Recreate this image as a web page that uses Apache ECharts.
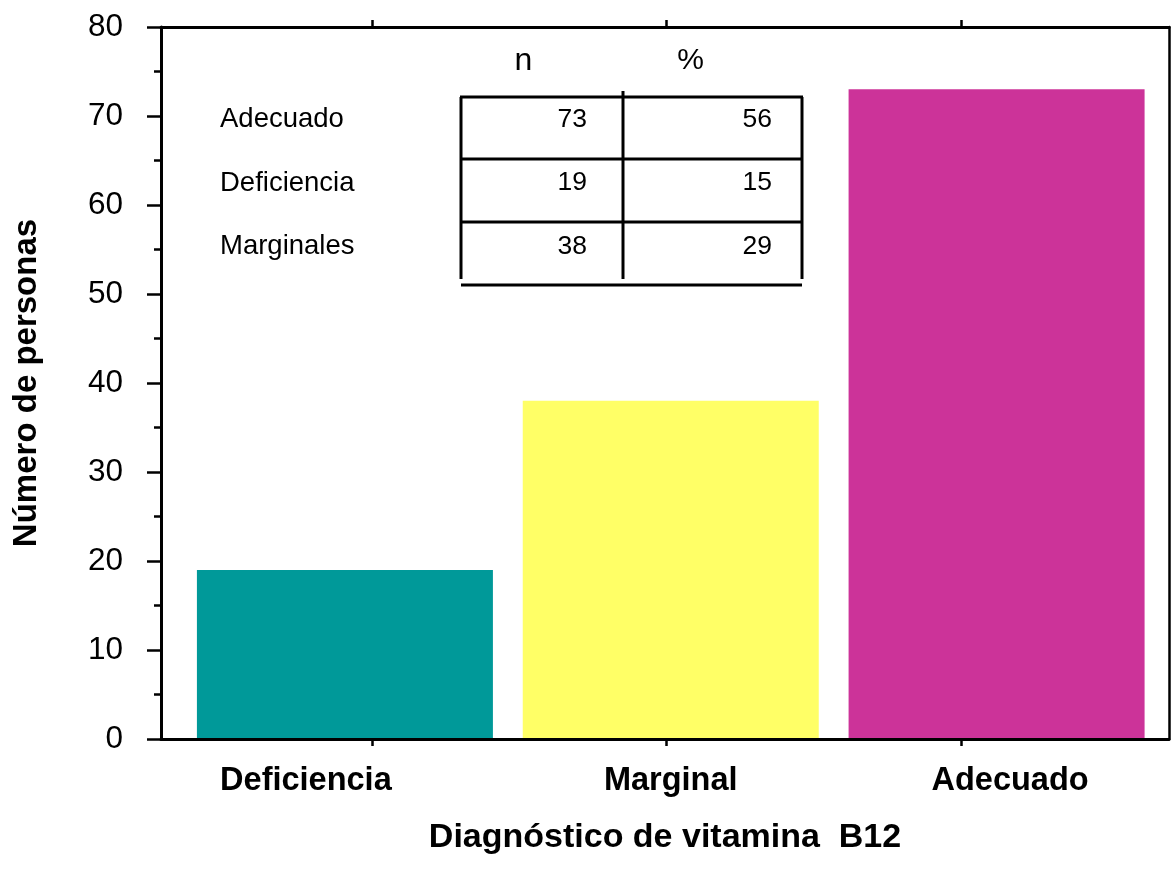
<!DOCTYPE html>
<html>
<head>
<meta charset="utf-8">
<title>Diagnóstico de vitamina B12</title>
<script src="https://cdn.jsdelivr.net/npm/echarts@6/dist/echarts.min.js"></script>
<style>
  html, body { margin: 0; padding: 0; background: #fff; }
  #chart { width: 1171px; height: 888px; }
</style>
</head>
<body>
<div id="chart"></div>
<script>
// Diagnosis categories and number of people in each
const categories = ['Deficiencia', 'Marginal', 'Adecuado'];
const counts = [19, 38, 73];
const percents = [15, 29, 56];

// Inset summary table: row labels and the category each row refers to
const tableHeaders = ['n', '%'];
const tableRowLabels = ['Adecuado', 'Deficiencia', 'Marginales'];
const tableRowIndex = [2, 0, 1];

// Y axis range
const yMin = 0;
const yMax = 80;
const yStep = 10;

const FONT = '"Liberation Sans", Arial, Helvetica, sans-serif';
const barColors = ['#009999', '#FFFF66', '#CC3399'];

const chart = echarts.init(document.getElementById('chart'), null, { renderer: 'canvas' });

// Frame tick axis: ticks sit at 1, 2, 3
const frameX = {
  gridIndex: 0,
  type: 'value',
  min: 0.2835,
  max: 3.706,
  z: 5,
  axisLine: { show: true, onZero: false, lineStyle: { color: '#000', width: 3 } },
  axisTick: { show: true, inside: false, length: 7, customValues: [1, 2, 3], lineStyle: { color: '#000', width: 2.5 } },
  axisLabel: { show: false },
  splitLine: { show: false }
};

// Inset table drawn with graphic elements
const colX = [461, 623, 802];
const rowY = [97, 159, 222];
const tableBottom = 279;
const rowTextY = [119.5, 183, 246.5];
const graphics = [];
const lineStyle = { stroke: '#000', lineWidth: 3 };
rowY.forEach(y => graphics.push({ type: 'line', shape: { x1: colX[0] - 1, y1: y, x2: colX[2] + 1, y2: y }, style: lineStyle }));
graphics.push({ type: 'line', shape: { x1: colX[0], y1: 285, x2: colX[2], y2: 285 }, style: lineStyle });
graphics.push({ type: 'line', shape: { x1: colX[0], y1: rowY[0], x2: colX[0], y2: tableBottom }, style: lineStyle });
graphics.push({ type: 'line', shape: { x1: colX[1], y1: 91, x2: colX[1], y2: tableBottom }, style: lineStyle });
graphics.push({ type: 'line', shape: { x1: colX[2], y1: rowY[0], x2: colX[2], y2: tableBottom }, style: lineStyle });
graphics.push({ type: 'text', style: { text: tableHeaders[0], x: 523.5, y: 61, font: '32px ' + FONT, fill: '#000', textAlign: 'center', textVerticalAlign: 'middle' } });
graphics.push({ type: 'text', style: { text: tableHeaders[1], x: 690.5, y: 61, font: '30px ' + FONT, fill: '#000', textAlign: 'center', textVerticalAlign: 'middle' } });
tableRowLabels.forEach((lab, r) => {
  const ci = tableRowIndex[r];
  graphics.push({ type: 'text', style: { text: lab, x: 220, y: rowTextY[r], font: '27.5px ' + FONT, fill: '#000', textAlign: 'left', textVerticalAlign: 'middle' } });
  graphics.push({ type: 'text', style: { text: String(counts[ci]), x: 587, y: rowTextY[r], font: '26.5px ' + FONT, fill: '#000', textAlign: 'right', textVerticalAlign: 'middle' } });
  graphics.push({ type: 'text', style: { text: String(percents[ci]), x: 772, y: rowTextY[r], font: '26.5px ' + FONT, fill: '#000', textAlign: 'right', textVerticalAlign: 'middle' } });
});

const catLabelStyle = { fontFamily: FONT, fontSize: 32.5, fontWeight: 'bold', color: '#000' };

const option = {
  animation: false,
  backgroundColor: '#fff',
  grid: [
    { left: 161, right: 2, top: 27, bottom: 149 },
    { left: 182, right: 11.5, top: 27, bottom: 149 }
  ],
  xAxis: [
    Object.assign({}, frameX, {
      position: 'bottom',
      name: 'Diagnóstico de vitamina  B12',
      nameLocation: 'middle',
      nameGap: 82,
      nameTextStyle: { fontFamily: FONT, fontSize: 34, fontWeight: 'bold', color: '#000' }
    }),
    Object.assign({}, frameX, { position: 'top' }),
    {
      gridIndex: 1,
      type: 'category',
      data: categories,
      position: 'bottom',
      axisLine: { show: false },
      axisTick: { show: false },
      splitLine: { show: false },
      axisLabel: {
        margin: 26,
        interval: 0,
        fontFamily: FONT, fontSize: 32.5, fontWeight: 'bold', color: '#000',
        formatter: (v, i) => '{c' + i + '|' + v + '}',
        rich: {
          c0: Object.assign({ padding: [0, 78, 0, 0] }, catLabelStyle),
          c1: Object.assign({}, catLabelStyle),
          c2: Object.assign({ padding: [0, 0, 0, 27] }, catLabelStyle)
        }
      }
    }
  ],
  yAxis: [
    {
      gridIndex: 0,
      type: 'value',
      position: 'left',
      min: yMin, max: yMax, interval: yStep,
      z: 5,
      axisLine: { show: true, onZero: false, lineStyle: { color: '#000', width: 3 } },
      axisTick: { show: true, length: 14, lineStyle: { color: '#000', width: 2.5 } },
      minorTick: { show: true, splitNumber: 2, length: 7, lineStyle: { color: '#000', width: 2.5 } },
      axisLabel: { fontFamily: FONT, fontSize: 31.5, color: '#000', margin: 38 },
      splitLine: { show: false },
      minorSplitLine: { show: false },
      name: 'Número de personas',
      nameLocation: 'middle',
      nameGap: 118,
      nameRotate: 90,
      nameTextStyle: { fontFamily: FONT, fontSize: 33, fontWeight: 'bold', color: '#000' }
    },
    {
      gridIndex: 0,
      type: 'value',
      position: 'right',
      min: yMin, max: yMax,
      z: 5,
      axisLine: { show: true, onZero: false, lineStyle: { color: '#000', width: 2.5 } },
      axisTick: { show: false },
      axisLabel: { show: false },
      splitLine: { show: false }
    },
    {
      gridIndex: 1,
      type: 'value',
      min: yMin, max: yMax,
      show: false,
      splitLine: { show: false }
    }
  ],
  series: [
    {
      type: 'bar',
      xAxisIndex: 2,
      yAxisIndex: 2,
      barWidth: 296,
      data: counts.map((v, i) => ({ value: v, itemStyle: { color: barColors[i] } }))
    }
  ],
  graphic: graphics
};

chart.setOption(option);
</script>
</body>
</html>
